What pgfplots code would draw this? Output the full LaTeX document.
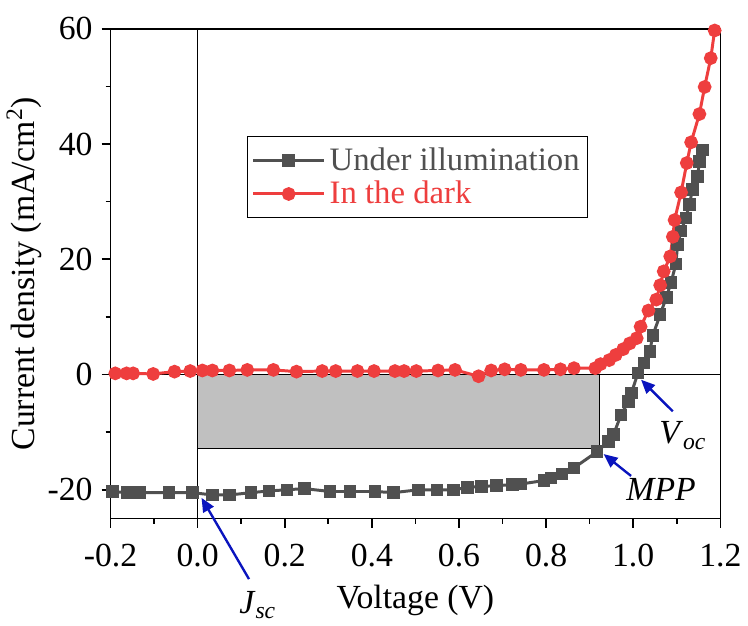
\documentclass[border=0pt]{standalone}
\usepackage{fontspec}
\setmainfont{Liberation Serif}
\usepackage{pgfplots}
\pgfplotsset{compat=1.18}
\usetikzlibrary{arrows.meta}
\definecolor{ser1}{RGB}{80,80,80}
\definecolor{ser2}{RGB}{238,62,62}
\definecolor{arr}{RGB}{10,20,190}
\definecolor{boxfill}{RGB}{192,192,192}
\begin{document}
\begin{tikzpicture}
\begin{axis}[
  scale only axis, width=307.5pt, height=247pt,
  xmin=-0.2, xmax=1.2, ymin=-25, ymax=60,
  xtick={-0.2,0,0.2,0.4,0.6,0.8,1.0,1.2},
  ytick={-20,0,20,40,60},
  minor x tick num=1, minor y tick num=1,
  tick align=outside, xtick pos=left, ytick pos=left,
  major tick length=4.5pt, minor tick length=2.5pt,
  axis line style={line width=0.8pt},
  every tick/.style={black, line width=0.8pt},
  font=\fontsize{17}{20}\selectfont,
  /pgf/number format/assume math mode=true,
  xticklabel style={/pgf/number format/.cd, fixed, fixed zerofill, precision=1, /tikz/.cd, yshift=-5pt},
  yticklabel style={xshift=-1pt},
  xlabel={Voltage (V)},
  ylabel={Current density (mA/cm\textsuperscript{2})},
  xlabel style={yshift=-2pt},
  ylabel style={yshift=-4pt},
  clip=false,
  legend cell align=left,
  legend style={at={(0.224,0.781)}, anchor=north west, draw=black, line width=0.6pt,
    font=\fontsize{16.5}{20}\selectfont, inner xsep=2pt, inner ysep=3.5pt, row sep=0pt},
  legend image code/.code={\draw[mark repeat=2,mark phase=2] plot coordinates {(0cm,0cm) (0.63cm,0cm) (1.26cm,0cm)};},
]
\path (rel axis cs:0,1) -- ++(0pt,14.5pt);
\draw[line width=0.6pt, fill=boxfill] (axis cs:0,-12.8) rectangle (axis cs:0.923,0);
\draw[line width=0.8pt] (axis cs:-0.2,0) -- (axis cs:1.2,0);
\draw[line width=0.8pt] (axis cs:0,-25) -- (axis cs:0,60);

\addplot[color=ser1, line width=1.5pt, mark=square*, mark size=2.4pt, mark options={solid, fill=ser1}] coordinates {
(-0.195,-20.3) (-0.161,-20.5) (-0.132,-20.5) (-0.066,-20.5) (-0.012,-20.5)
(0.034,-20.9) (0.073,-20.9) (0.123,-20.5) (0.164,-20.2) (0.205,-20.0)
(0.245,-19.8) (0.304,-20.3) (0.350,-20.3) (0.407,-20.3) (0.450,-20.5)
(0.507,-20.0) (0.550,-20.0) (0.587,-20.0) (0.620,-19.6) (0.652,-19.4)
(0.686,-19.3) (0.723,-19.1) (0.742,-19.0) (0.795,-18.4) (0.811,-18.0)
(0.837,-17.3) (0.864,-16.2) (0.917,-13.4) (0.943,-11.6) (0.955,-10.4)
(0.972,-7.0) (0.989,-4.7) (0.996,-3.2) (1.011,0.3) (1.025,2.0)
(1.038,4.0) (1.045,6.8) (1.062,10.4) (1.076,13.4) (1.087,16.0)
(1.098,19.2) (1.102,22.6) (1.110,24.9) (1.121,27.2) (1.129,29.5)
(1.136,32.1) (1.148,34.4) (1.152,37.0) (1.159,39.0)
};
\addlegendentry{\textcolor{ser1}{Under illumination}}

\addplot[color=ser2, line width=1.5pt, mark=*, mark size=2.7pt, mark options={solid, fill=ser2}] coordinates {
(-0.189,0.2) (-0.163,0.2) (-0.148,0.2) (-0.102,0.1) (-0.053,0.5)
(-0.017,0.6) (0.011,0.7) (0.034,0.7) (0.073,0.7) (0.114,0.8)
(0.174,0.8) (0.227,0.5) (0.286,0.6) (0.317,0.6) (0.367,0.6)
(0.405,0.6) (0.453,0.6) (0.474,0.6) (0.502,0.6) (0.552,0.7)
(0.591,0.8) (0.645,-0.3) (0.674,0.7) (0.705,0.9) (0.742,0.8)
(0.795,0.8) (0.833,0.9) (0.864,1.1) (0.913,1.1) (0.925,1.8)
(0.945,2.5) (0.960,3.4) (0.977,4.4) (0.992,5.4) (1.008,6.3)
(1.017,8.3) (1.035,11.1) (1.053,13.0) (1.062,15.5) (1.070,17.9)
(1.085,20.5) (1.091,23.9) (1.095,26.8) (1.110,31.6) (1.123,36.7)
(1.133,40.3) (1.152,45.2) (1.164,49.9) (1.178,54.9) (1.187,59.7)
};
\addlegendentry{\textcolor{ser2}{In the dark}}

\draw[arr, line width=1.2pt, -{Triangle[length=7pt,width=6pt]}] (axis cs:0.118,-35.5) -- (axis cs:0.009,-21.4);
\draw[arr, line width=1.2pt, -{Triangle[length=7pt,width=6pt]}] (axis cs:0.995,-17.6) -- (axis cs:0.932,-13.8);
\draw[arr, line width=1.2pt, -{Triangle[length=7pt,width=6pt]}] (axis cs:1.091,-6.4) -- (axis cs:1.018,-0.9);
\node[font=\fontsize{17}{20}\selectfont] at (axis cs:0.138,-40.0) {\textit{J}\textsubscript{\textit{sc}}};
\node[font=\fontsize{17}{20}\selectfont] at (axis cs:1.064,-20.0) {\textit{MPP}};
\node[font=\fontsize{17}{20}\selectfont] at (axis cs:1.114,-10.6) {\textit{V}\textsubscript{\textit{oc}}};
\end{axis}
\end{tikzpicture}
\end{document}
